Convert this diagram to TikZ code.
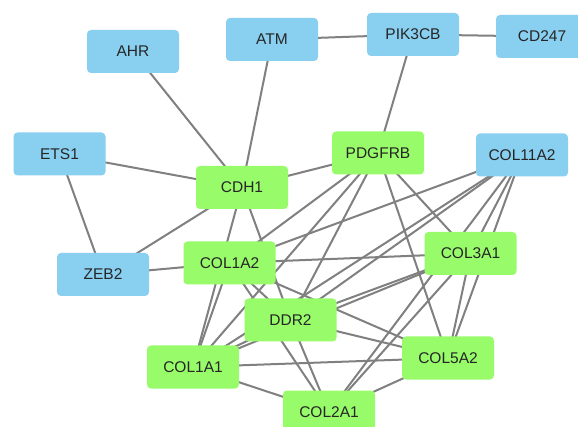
\documentclass[tikz,border=0pt]{standalone}
\usepackage{fontspec}
\setmainfont{Liberation Sans}
\pgfdeclarelayer{bg}
\pgfdeclarelayer{edges}
\pgfsetlayers{bg,edges,main}
\definecolor{nodeblue}{RGB}{137,207,240}
\definecolor{nodegreen}{RGB}{152,251,106}
\definecolor{edgegray}{RGB}{128,128,128}
\tikzset{
  gene/.style={rectangle, rounded corners=4pt, minimum width=92pt, minimum height=43pt, inner sep=0pt, font=\fontsize{15.5}{17}\selectfont, text=black!85},
  bluegene/.style={gene, fill=nodeblue},
  greengene/.style={gene, fill=nodegreen},
  link/.style={draw=edgegray, line width=2pt}
}
\begin{document}
\begin{tikzpicture}[x=1pt,y=-1pt]
\useasboundingbox (0,0) rectangle (578,427);
\clip (0,0) rectangle (578,427);
\begin{pgfonlayer}{bg}
\fill[white] (0,0) rectangle (578,427);
\end{pgfonlayer}
\node[bluegene] (AHR) at (133,51.5) {AHR};
\node[bluegene] (ATM) at (272,39.5) {ATM};
\node[bluegene] (PIK3CB) at (413,34.5) {PIK3CB};
\node[bluegene] (CD247) at (542,36.5) {CD247};
\node[bluegene] (ETS1) at (59.5,154) {ETS1};
\node[bluegene] (ZEB2) at (103,274.5) {ZEB2};
\node[bluegene] (COL11A2) at (522,155) {COL11A2};
\node[greengene] (CDH1) at (242,187.5) {CDH1};
\node[greengene] (PDGFRB) at (378,153) {PDGFRB};
\node[greengene] (COL1A2) at (229.5,263) {COL1A2};
\node[greengene] (COL3A1) at (470.5,253.5) {COL3A1};
\node[greengene] (DDR2) at (290.5,320) {DDR2};
\node[greengene] (COL1A1) at (193,367) {COL1A1};
\node[greengene] (COL5A2) at (448,358) {COL5A2};
\node[greengene] (COL2A1) at (329,412) {COL2A1};
\begin{pgfonlayer}{edges}
\foreach \a/\b in {AHR/CDH1, ATM/CDH1, ATM/PIK3CB, PIK3CB/CD247, PIK3CB/PDGFRB,
  ETS1/CDH1, ETS1/ZEB2, ZEB2/CDH1, ZEB2/COL1A2,
  CDH1/PDGFRB, CDH1/COL1A1, CDH1/DDR2,
  PDGFRB/COL1A1, PDGFRB/COL1A2, PDGFRB/COL3A1, PDGFRB/COL5A2, PDGFRB/DDR2,
  COL1A1/COL1A2, COL1A1/COL3A1, COL1A1/COL5A2, COL1A1/COL11A2, COL1A1/COL2A1,
  COL1A2/COL3A1, COL1A2/COL5A2, COL1A2/COL11A2, COL1A2/COL2A1,
  COL3A1/COL5A2, COL3A1/COL11A2, COL3A1/COL2A1,
  COL5A2/COL11A2, COL5A2/COL2A1, COL11A2/COL2A1,
  DDR2/COL1A1, DDR2/COL1A2, DDR2/COL3A1, DDR2/COL5A2, DDR2/COL11A2, DDR2/COL2A1}
  \draw[link] (\a.center) -- (\b.center);
\end{pgfonlayer}
\end{tikzpicture}
\end{document}
